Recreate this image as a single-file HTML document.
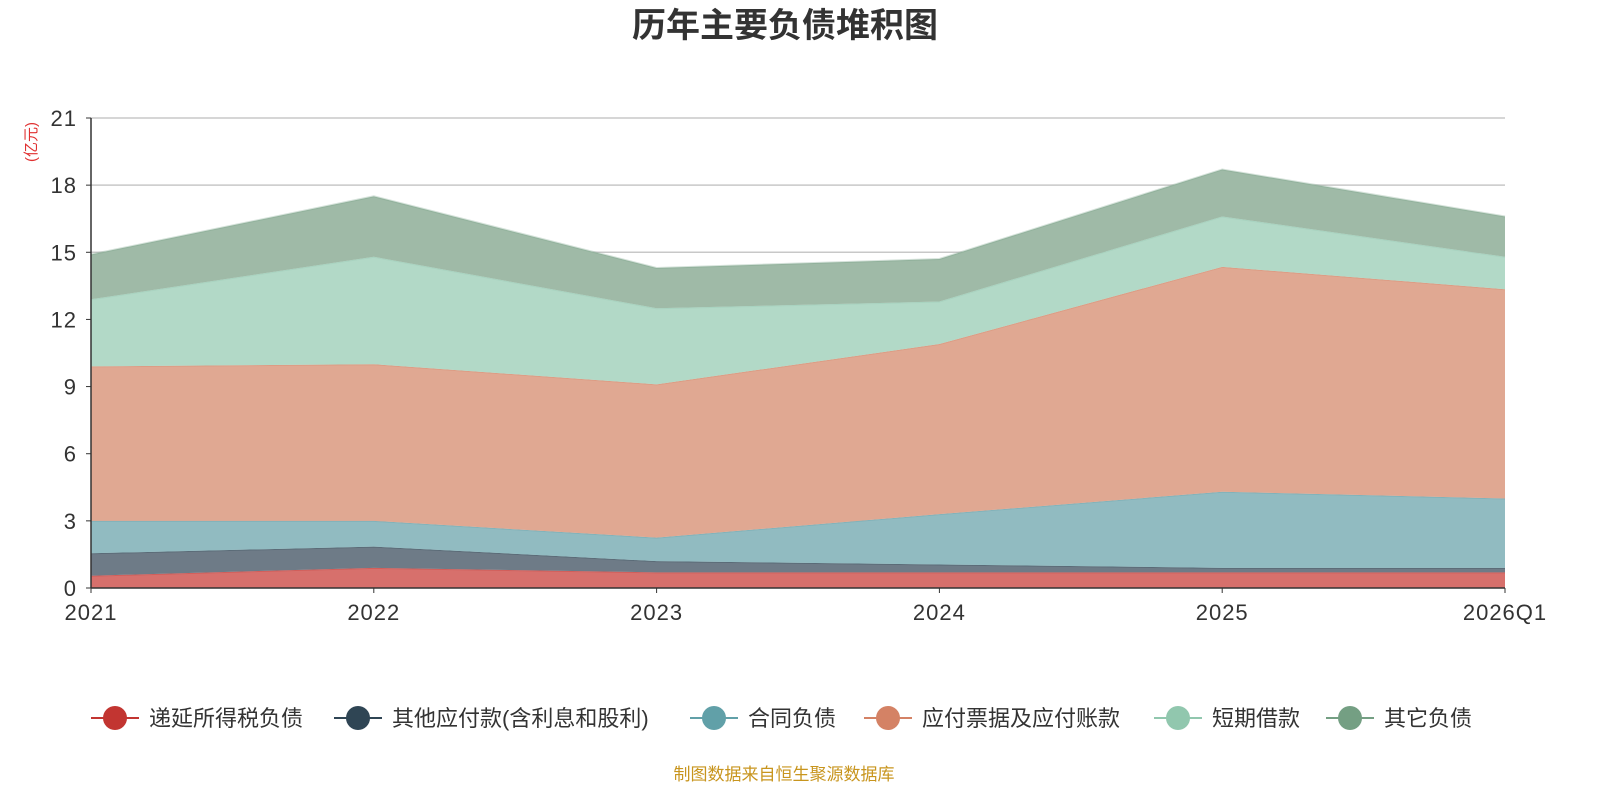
<!DOCTYPE html>
<html><head><meta charset="utf-8"><style>
body{margin:0;background:#fff;width:1600px;height:800px;overflow:hidden;font-family:"Liberation Sans","Noto Sans CJK SC",sans-serif}
</style></head><body>
<svg id="chart" width="1600" height="800" font-family="Liberation Sans, Noto Sans CJK SC, sans-serif">
<text x="785" y="37" text-anchor="middle" font-size="34" font-weight="bold" fill="#333">历年主要负债堆积图</text>
<text transform="translate(36,142) rotate(-90)" text-anchor="middle" font-size="15" fill="#e03030">(亿元)</text>
<g id="grid"></g><g id="areas"></g><g id="axes"></g><g id="legend"></g>
<text x="784" y="780" text-anchor="middle" font-size="17" fill="#c8951e">制图数据来自恒生聚源数据库</text>
</svg>
<script>
const categories=["2021","2022","2023","2024","2025","2026Q1"];
const seriesNames=["递延所得税负债","其他应付款(含利息和股利)","合同负债","应付票据及应付账款","短期借款","其它负债"];
const deferredTax=[0.55,0.9,0.7,0.7,0.7,0.7];
const otherPayables=[1.0,0.95,0.5,0.35,0.2,0.2];
const contractLiab=[1.45,1.15,1.05,2.25,3.4,3.1];
const notesPayable=[6.9,7.0,6.85,7.6,10.05,9.35];
const shortLoans=[3.0,4.8,3.4,1.9,2.25,1.45];
const otherLiab=[2.0,2.7,1.8,1.9,2.1,1.8];
const yTicks=[0,3,6,9,12,15,18,21];
const series=[deferredTax,otherPayables,contractLiab,notesPayable,shortLoans,otherLiab];
const fills=["#d7706c","#6e7b87","#91bbc1","#e0a892","#b2d9c7","#9fbaa7"];
const markers=["#c23531","#2f4554","#61a0a8","#d48265","#91c7ae","#749f83"];
const X0=91,X1=1505,Y0=588,Y1=118,YMAX=21;
const x=i=>X0+(X1-X0)*i/(categories.length-1);
const y=v=>Y0-(Y0-Y1)*v/YMAX;
const NS="http://www.w3.org/2000/svg";
function mk(t,a,p){const e=document.createElementNS(NS,t);for(const k in a)e.setAttribute(k,a[k]);p.appendChild(e);return e;}
const grid=document.getElementById('grid'),axes=document.getElementById('axes'),areas=document.getElementById('areas'),legend=document.getElementById('legend');
yTicks.forEach(t=>{
 if(t>0){const l=mk('line',{x1:X0,x2:X1,y1:y(t),y2:y(t),stroke:'#c8c8c8','stroke-width':1.5},grid);
 
 }
 const tl=mk('line',{x1:X0-5,x2:X0,y1:y(t),y2:y(t),stroke:'#333'},axes);
 
 
 const tx=mk('text',{x:X0-14,y:y(t)+8,'text-anchor':'end','font-size':22,'letter-spacing':1,fill:'#333'},axes);tx.textContent=t;
 
 
});
let base=categories.map(()=>0);
series.forEach((s,si)=>{
 const top=base.map((b,i)=>b+s[i]);
 let d='M'+top.map((v,i)=>x(i)+','+y(v)).join('L');
 for(let i=categories.length-1;i>=0;i--)d+='L'+x(i)+','+y(base[i]);
 const p=mk('path',{d:d+'Z',fill:fills[si]},areas);
 
 
 const ln=mk('polyline',{points:top.map((v,i)=>x(i)+','+y(v)).join(' '),fill:'none',stroke:markers[si],'stroke-opacity':0.3,'stroke-width':2},areas);
 
 
 base=top;
});
const ya=mk('line',{x1:X0,x2:X0,y1:Y1,y2:Y0,stroke:'#333','stroke-width':1.5},axes);


const xa=mk('line',{x1:X0,x2:X1,y1:Y0,y2:Y0,stroke:'#333','stroke-width':1.5},axes);


categories.forEach((c,i)=>{
 const tl=mk('line',{x1:x(i),x2:x(i),y1:Y0,y2:Y0+5,stroke:'#333'},axes);
 
 
 const tx=mk('text',{x:x(i),y:Y0+32,'text-anchor':'middle','font-size':22,'letter-spacing':1,fill:'#333'},axes);tx.textContent=c;
 
 
});
const lc=[115,358,714,888,1178,1350];
seriesNames.forEach((n,i)=>{
 const g=mk('g',{},legend);
 
 
 mk('line',{x1:lc[i]-24,x2:lc[i]+24,y1:718,y2:718,stroke:markers[i],'stroke-width':2},g);
 mk('circle',{cx:lc[i],cy:718,r:12,fill:markers[i]},g);
 const t=mk('text',{x:lc[i]+34,y:726,'font-size':22,fill:'#333'},g);t.textContent=n;
});
</script>
</body></html>
